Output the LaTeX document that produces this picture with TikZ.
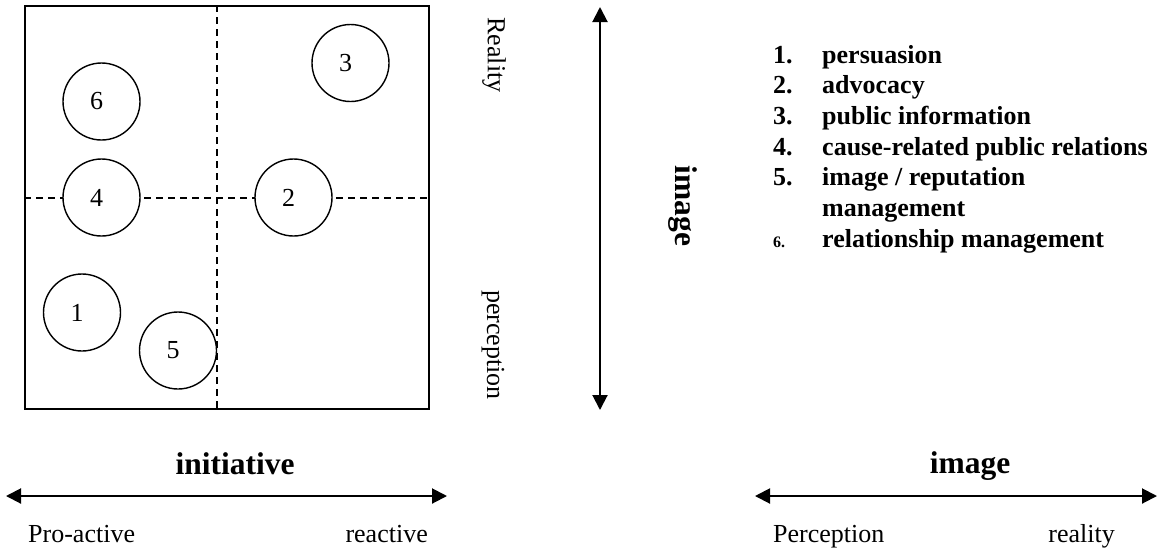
\documentclass[tikz,border=0pt]{standalone}
\usepackage{fontspec}
\setmainfont{Liberation Serif}
\usetikzlibrary{arrows.meta}
\begin{document}
\begin{tikzpicture}[x=1pt,y=-1pt,
  txt/.style={inner sep=0pt,font=\fontsize{26}{31}\selectfont},
  btxt/.style={inner sep=0pt,font=\fontsize{26}{31}\selectfont\bfseries},
  big/.style={inner sep=0pt,font=\fontsize{31.5}{36}\selectfont\bfseries},
  ball/.style={circle,draw,fill=white,line width=1.4pt,minimum size=77pt,inner sep=0pt,font=\fontsize{26}{31}\selectfont},
  dsh/.style={line width=1.4pt,dash pattern=on 7pt off 5pt},
  dbl/.style={line width=2pt,{Triangle[length=15pt,width=15pt]}-{Triangle[length=15pt,width=15pt]}}]
\useasboundingbox (0,0) rectangle (1162,550);
% box
\node[draw,line width=2pt,minimum width=404pt,minimum height=403pt,inner sep=0pt,anchor=north west] (box) at (24,5) {};
\coordinate (hl) at (24,198);
\coordinate (hr) at (428,198);
\coordinate (vt) at (217,5);
\coordinate (vb) at (217,408);
\draw[dsh] (hl) -- (hr);
\draw[dsh] (vt) -- (vb);
% circles
\node[ball] (c6) at (101.5,101.5) {\hspace*{-10pt}6};
\node[ball] (c3) at (350.5,63) {\hspace*{-10pt}3};
\node[ball] (c4) at (101.5,197.5) {\hspace*{-10pt}4};
\node[ball] (c2) at (293.5,197.5) {\hspace*{-10pt}2};
\node[ball] (c1) at (82,312.5) {\hspace*{-10pt}1};
\node[ball] (c5) at (178,350.5) {\hspace*{-10pt}5};
% vertical labels
\node[txt,rotate=-90] (real) at (494,55) {Reality};
\node[txt,rotate=-90] (perc) at (493,345) {perception};
% vertical arrow
\coordinate (vat) at (600,7);
\coordinate (vab) at (600,410);
\draw[dbl] (vat) -- (vab);
\node[big,rotate=-90] (imgv) at (683,206) {image};
% legend
\node[btxt,anchor=base west] (n1) at (773,63) {1.};
\node[btxt,anchor=base west] (t1) at (822,63) {persuasion};
\node[btxt,anchor=base west] (n2) at (773,93.7) {2.};
\node[btxt,anchor=base west] (t2) at (822,93.7) {advocacy};
\node[btxt,anchor=base west] (n3) at (773,124.4) {3.};
\node[btxt,anchor=base west] (t3) at (822,124.4) {public information};
\node[btxt,anchor=base west] (n4) at (773,155.1) {4.};
\node[btxt,anchor=base west] (t4) at (822,155.1) {cause-related public relations};
\node[btxt,anchor=base west] (n5) at (773,185.8) {5.};
\node[btxt,anchor=base west] (t5) at (822,185.8) {image / reputation};
\node[btxt,anchor=base west] (t5b) at (822,216.5) {management};
\node[inner sep=0pt,font=\fontsize{16}{19}\selectfont\bfseries,anchor=base west] (n6) at (773,247.2) {6.};
\node[btxt,anchor=base west] (t6) at (822,247.2) {relationship management};
% bottom left
\node[big,anchor=base] (init) at (235,474) {initiative};
\coordinate (la) at (6,496);
\coordinate (lb) at (447,496);
\draw[dbl] (la) -- (lb);
\node[txt,anchor=base west] (pro) at (28,542) {Pro-active};
\node[txt,anchor=base east] (rea) at (428,542) {reactive};
% bottom right
\node[big,anchor=base] (imgh) at (970,473) {image};
\coordinate (ra) at (755,496);
\coordinate (rb) at (1157,496);
\draw[dbl] (ra) -- (rb);
\node[txt,anchor=base west] (pcp) at (773,542) {Perception};
\node[txt,anchor=base east] (rty) at (1115,542) {reality};
\end{tikzpicture}
\end{document}
